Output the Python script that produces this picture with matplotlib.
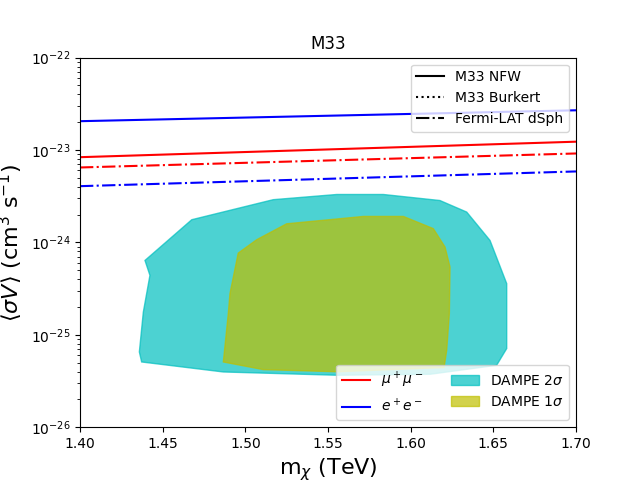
import matplotlib
matplotlib.use('Agg')
import matplotlib.pyplot as plt
from matplotlib.lines import Line2D
from matplotlib.patches import Patch
import numpy as np

# limit lines (endpoints)
mass_ends = [1.40, 1.70]
mumu_nfw = [8.36e-24, 1.23e-23]
ee_nfw = [2.05e-23, 2.69e-23]
mumu_dsph = [6.47e-24, 9.17e-24]
ee_dsph = [4.06e-24, 5.86e-24]

# DAMPE contour outlines (mass TeV, cross section)
c2_mass = [1.4393, 1.4423, 1.4383, 1.4359, 1.4373, 1.4867, 1.5553, 1.6117,
           1.6520, 1.6581, 1.6581, 1.6480, 1.6339, 1.6177, 1.5835, 1.5553,
           1.5169, 1.4676]
c2_sv = [6.38e-25, 4.40e-25, 1.76e-25, 6.52e-26, 5.08e-26, 3.96e-26, 3.65e-26,
         3.74e-26, 4.68e-26, 7.1e-26, 3.58e-25, 1.05e-24, 2.13e-24, 2.84e-24,
         3.30e-24, 3.30e-24, 2.90e-24, 1.76e-24]

c1_mass = [1.4957, 1.5069, 1.5250, 1.5714, 1.5956, 1.6137, 1.6208, 1.6238,
           1.6234, 1.6218, 1.6202, 1.5553, 1.5109, 1.4867, 1.4897, 1.4907,
           1.4944]
c1_sv = [7.66e-25, 1.07e-24, 1.59e-24, 1.91e-24, 1.91e-24, 1.41e-24, 8.9e-25,
         5.41e-25, 1.70e-25, 6.8e-26, 4.42e-26, 3.98e-26, 4.2e-26, 5.08e-26,
         1.70e-25, 2.79e-25, 5.89e-25]

fig, ax = plt.subplots(figsize=(6.4, 4.8), dpi=100)

ax.fill(c2_mass, c2_sv, color='c', alpha=0.7, lw=1)
ax.fill(c1_mass, c1_sv, color='y', alpha=0.7, lw=1)

ax.plot(mass_ends, ee_nfw, 'b-')
ax.plot(mass_ends, mumu_nfw, 'r-')
ax.plot(mass_ends, mumu_dsph, 'r-.')
ax.plot(mass_ends, ee_dsph, 'b-.')

ax.set_yscale('log')
ax.set_xlim(1.40, 1.70)
ax.set_ylim(1e-26, 1e-22)
ax.set_xticks(np.arange(1.40, 1.701, 0.05))
ax.set_title('M33')
ax.set_xlabel(r'm$_\chi$ (TeV)', fontsize=16)
ax.set_ylabel(r'$\langle\sigma V\rangle$ (cm$^3$ s$^{-1}$)', fontsize=16)

style_handles = [Line2D([], [], color='k', ls='-', label='M33 NFW'),
                 Line2D([], [], color='k', ls=':', label='M33 Burkert'),
                 Line2D([], [], color='k', ls='-.', label='Fermi-LAT dSph')]
leg1 = ax.legend(handles=style_handles, loc='upper right')
ax.add_artist(leg1)

chan_handles = [Line2D([], [], color='r', label=r'$\mu^+\mu^-$'),
                Line2D([], [], color='b', label=r'$e^+e^-$'),
                Patch(color='c', alpha=0.7, label=r'DAMPE 2$\sigma$'),
                Patch(color='y', alpha=0.7, label=r'DAMPE 1$\sigma$')]
ax.legend(handles=chan_handles, loc='lower right', ncol=2)

plt.savefig('out.png', dpi=100)
